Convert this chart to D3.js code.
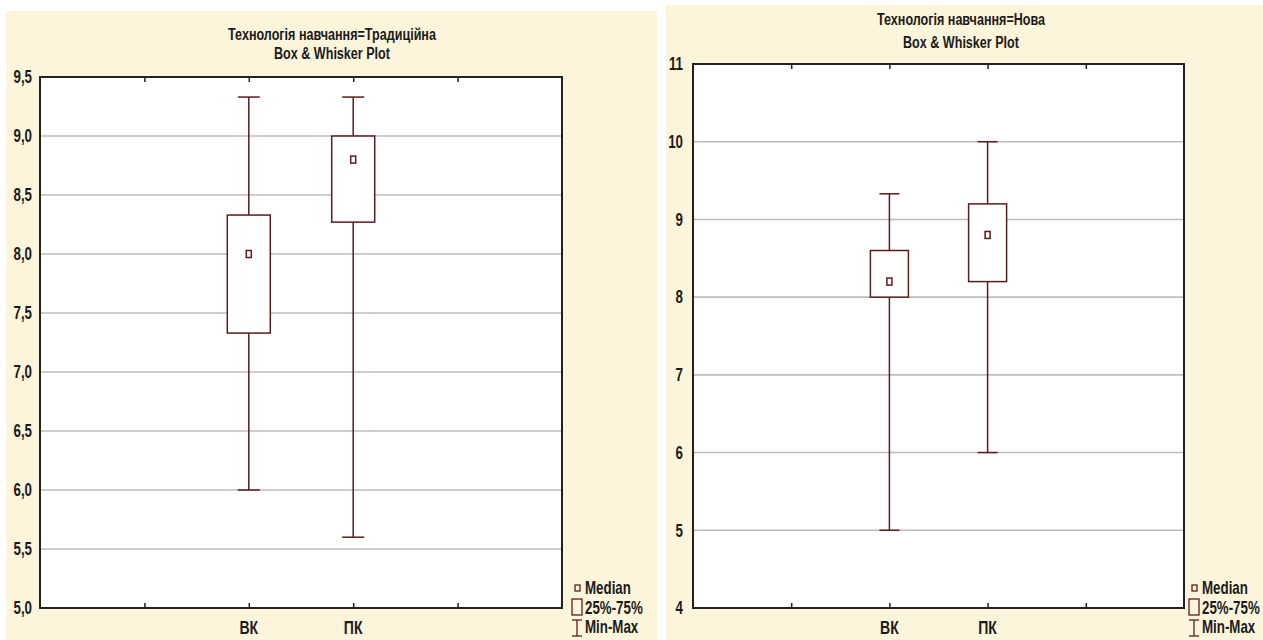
<!DOCTYPE html>
<html>
<head>
<meta charset="utf-8">
<script src="https://cdn.jsdelivr.net/npm/d3@7"></script>
<style>
    body { margin: 0; background: white; }
    svg { display: block; }
    text { font-family: "Liberation Sans", Arial, sans-serif; font-weight: bold; fill: #1a1a1a; }
</style>
</head>
<body>
<svg width="1263" height="640"></svg>
<script>
// Data
const categories = ["ВК", "ПК"]

const trad_min = [6.0, 5.6]
const trad_q1 = [7.33, 8.27]
const trad_median = [8.0, 8.8]
const trad_q3 = [8.33, 9.0]
const trad_max = [9.33, 9.33]
const trad_ticks = [5.0, 5.5, 6.0, 6.5, 7.0, 7.5, 8.0, 8.5, 9.0, 9.5]

const new_min = [5.0, 6.0]
const new_q1 = [8.0, 8.2]
const new_median = [8.2, 8.8]
const new_q3 = [8.6, 9.2]
const new_max = [9.33, 10.0]
const new_ticks = [4, 5, 6, 7, 8, 9, 10, 11]

const legend_labels = ["Median", "25%-75%", "Min-Max"]

const box_color = "#5a1c1c"
const squeeze = 0.74   // narrow font look

const svg = d3.select("svg")

// text drawn narrow: scale horizontally around its anchor point
function narrow_text(parent, x, y, txt, size, anchor) {
    return parent.append("text")
        .attr("transform", `translate(${x},${y}) scale(${squeeze},1)`)
        .attr("text-anchor", anchor || "start")
        .attr("font-size", size)
        .text(txt)
}

function draw_panel(opts) {
    const g = svg.append("g")

    // cream panel background
    g.append("rect")
        .attr("x", opts.bg[0]).attr("y", opts.bg[1])
        .attr("width", opts.bg[2]).attr("height", opts.bg[3])
        .attr("fill", "#fcf5dc")

    const left = opts.left, right = opts.right, top = opts.top, bottom = opts.bottom

    const x = d3.scaleLinear().domain([0, 5]).range([left, right])
    const y = d3.scaleLinear().domain(d3.extent(opts.ticks)).range([bottom, top])

    // plot area
    g.append("rect")
        .attr("x", left).attr("y", top)
        .attr("width", right - left).attr("height", bottom - top)
        .attr("fill", "white")

    // grid lines
    g.selectAll(".grid")
        .data(opts.ticks.slice(1, -1))
        .enter()
        .append("line")
        .attr("x1", left).attr("x2", right)
        .attr("y1", d => y(d)).attr("y2", d => y(d))
        .attr("stroke", "#bcbcbc")
        .attr("stroke-width", 1.6)

    // y tick labels
    g.append("g")
        .attr("transform", `translate(${left},0)`)
        .call(d3.axisLeft(y).tickValues(opts.ticks).tickSize(0).tickPadding(0)
            .tickFormat(d => opts.format(d).replace(".", ",")))
        .call(a => a.select(".domain").remove())
        .selectAll("text")
        .attr("x", null)
        .attr("transform", `translate(${-opts.label_pad},0) scale(${squeeze},1)`)
        .attr("font-size", opts.tick_size)
        .attr("font-family", null)
        .attr("fill", "#1a1a1a")

    // inner ticks top and bottom
    const tick_vals = [1, 2, 3, 4]
    g.append("g")
        .attr("transform", `translate(0,${bottom})`)
        .call(d3.axisBottom(x).tickValues(tick_vals).tickSize(-5).tickFormat(""))
        .call(a => a.select(".domain").remove())
        .selectAll("line").attr("stroke", "#222").attr("stroke-width", 1.5)
    g.append("g")
        .attr("transform", `translate(0,${top})`)
        .call(d3.axisTop(x).tickValues(tick_vals).tickSize(-5).tickFormat(""))
        .call(a => a.select(".domain").remove())
        .selectAll("line").attr("stroke", "#222").attr("stroke-width", 1.5)

    // category labels
    categories.forEach(function(c, i) {
        narrow_text(g, x(i + 2), bottom + 26, c, 19, "middle")
    })

    // frame
    g.append("rect")
        .attr("x", left).attr("y", top)
        .attr("width", right - left).attr("height", bottom - top)
        .attr("fill", "none")
        .attr("stroke", "#222")
        .attr("stroke-width", 2)

    // boxes
    const bw = opts.box_width, cw = opts.cap_width
    categories.forEach(function(c, i) {
        const cx = x(i + 2)
        const bx = g.append("g").attr("stroke", box_color).attr("stroke-width", 1.5).attr("fill", "none")
        // whiskers
        bx.append("line").attr("x1", cx).attr("x2", cx).attr("y1", y(opts.max[i])).attr("y2", y(opts.q3[i]))
        bx.append("line").attr("x1", cx).attr("x2", cx).attr("y1", y(opts.q1[i])).attr("y2", y(opts.min[i]))
        bx.append("line").attr("x1", cx - cw / 2).attr("x2", cx + cw / 2).attr("y1", y(opts.max[i])).attr("y2", y(opts.max[i]))
        bx.append("line").attr("x1", cx - cw / 2).attr("x2", cx + cw / 2).attr("y1", y(opts.min[i])).attr("y2", y(opts.min[i]))
        // box
        bx.append("rect")
            .attr("x", cx - bw / 2).attr("y", y(opts.q3[i]))
            .attr("width", bw).attr("height", y(opts.q1[i]) - y(opts.q3[i]))
            .attr("fill", "white")
        // median marker
        bx.append("rect")
            .attr("x", cx - 2.5).attr("y", y(opts.median[i]) - 3.5)
            .attr("width", 5).attr("height", 7)
            .attr("fill", "white")
    })

    // titles
    narrow_text(g, opts.title_x, opts.title_y[0], opts.title, 17, "middle")
    narrow_text(g, opts.title_x, opts.title_y[1], "Box & Whisker Plot", 17, "middle")

    // legend
    const lx = opts.legend_x
    const lg = g.append("g").attr("stroke", box_color).attr("stroke-width", 1.3).attr("fill", "none")
    lg.append("rect").attr("x", lx + 3).attr("y", 585).attr("width", 5).attr("height", 6)
    lg.append("rect").attr("x", lx).attr("y", 599).attr("width", 10).attr("height", 16)
    lg.append("line").attr("x1", lx).attr("x2", lx + 10).attr("y1", 620).attr("y2", 620)
    lg.append("line").attr("x1", lx + 5).attr("x2", lx + 5).attr("y1", 620).attr("y2", 636)
    lg.append("line").attr("x1", lx).attr("x2", lx + 10).attr("y1", 636).attr("y2", 636)

    legend_labels.forEach(function(d, i) {
        narrow_text(g, lx + 13, 594 + i * 19.5, d, 18)
    })
}

draw_panel({
    bg: [6, 11, 651, 629],
    left: 40, right: 562, top: 77, bottom: 608,
    ticks: trad_ticks,
    format: d3.format(".1f"),
    min: trad_min, q1: trad_q1, median: trad_median, q3: trad_q3, max: trad_max,
    box_width: 43, cap_width: 22,
    title: "Технологія навчання=Традиційна",
    title_x: 332, title_y: [40, 59],
    legend_x: 572,
    label_pad: 8,
    tick_size: 18
})

draw_panel({
    bg: [666, 5, 597, 635],
    left: 693, right: 1184, top: 64, bottom: 608,
    ticks: new_ticks,
    format: d3.format("d"),
    min: new_min, q1: new_q1, median: new_median, q3: new_q3, max: new_max,
    box_width: 38, cap_width: 20,
    title: "Технологія навчання=Нова",
    title_x: 961, title_y: [25, 48],
    legend_x: 1189,
    label_pad: 10,
    tick_size: 18
})
</script>
</body>
</html>
